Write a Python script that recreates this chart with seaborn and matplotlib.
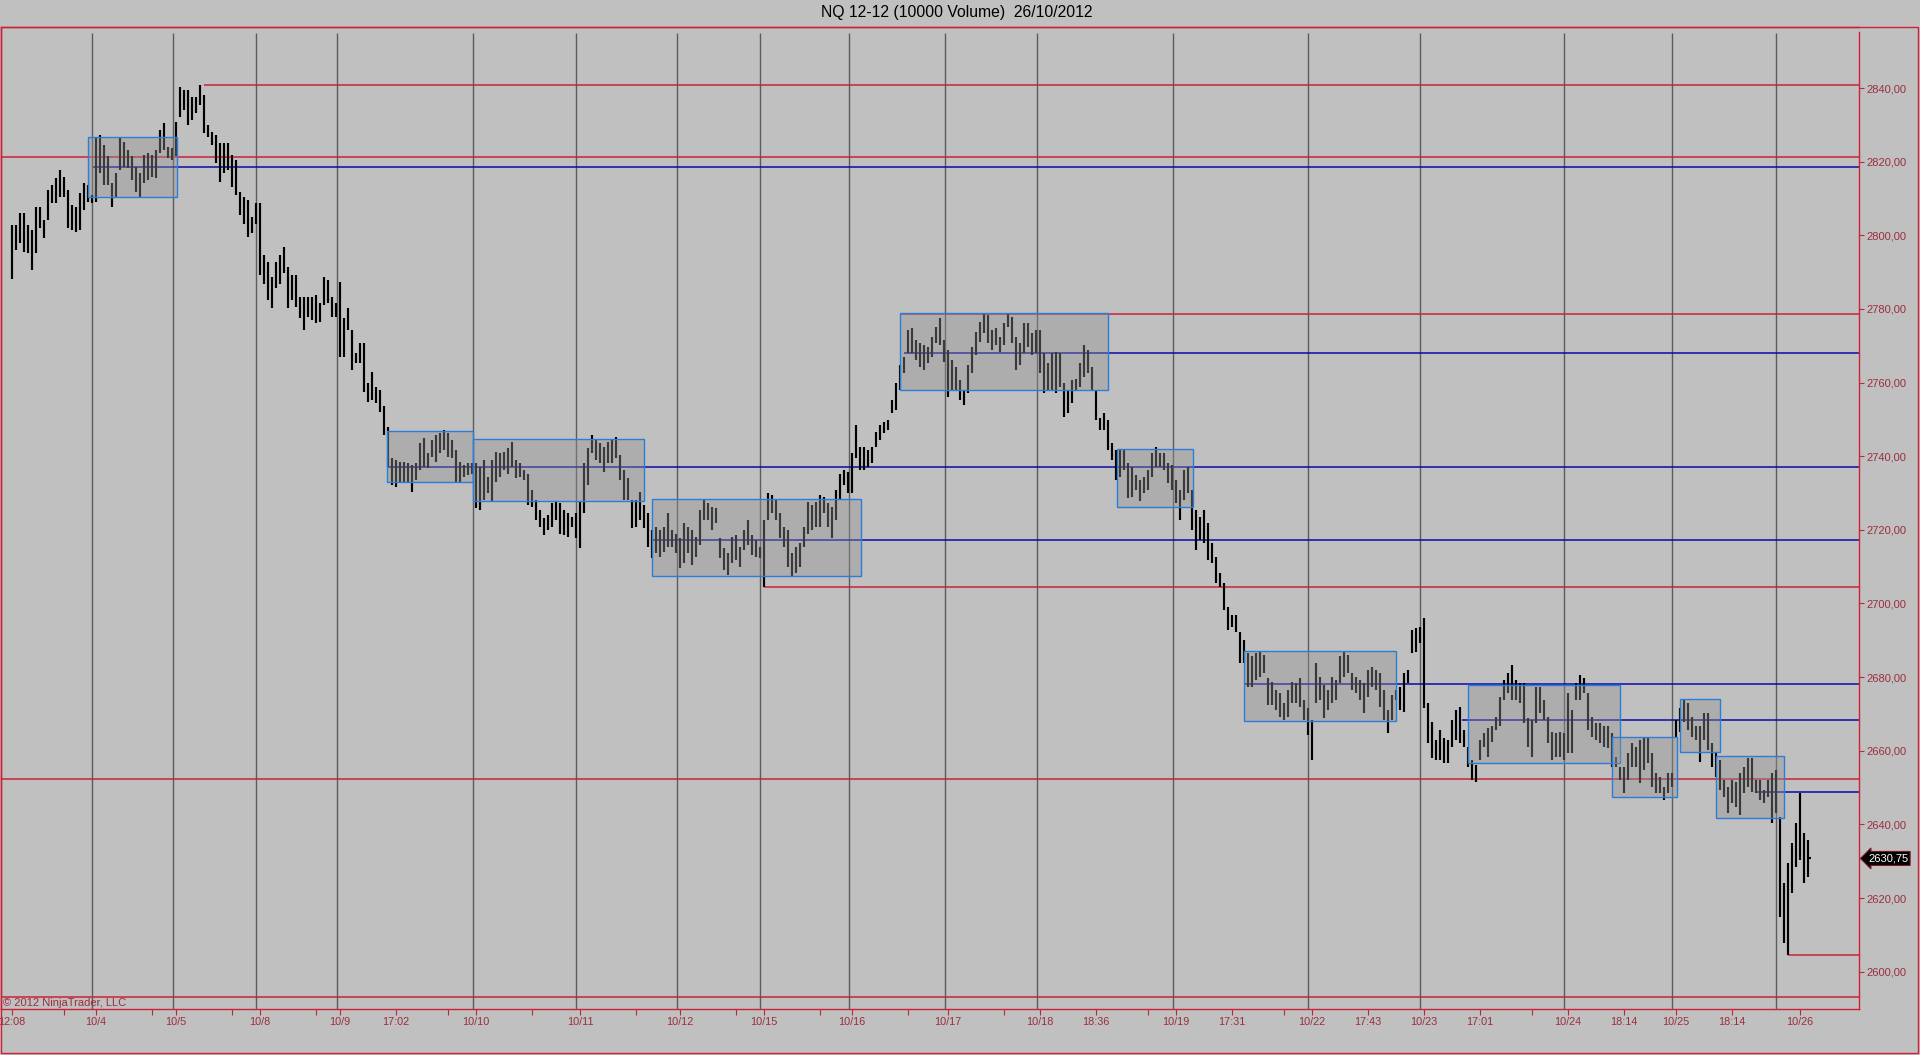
import numpy as np
import pandas as pd
import matplotlib
matplotlib.use("Agg")
import matplotlib.pyplot as plt
import seaborn as sns
from matplotlib.patches import Rectangle
import matplotlib.transforms as mtransforms

title = "NQ 12-12 (10000 Volume)  26/10/2012"
copyright_text = "\u00a9 2012 NinjaTrader, LLC"

highs = [
2802.8, 2802.8, 2806.0, 2806.0, 2802.8, 2801.4, 2807.8, 2807.8, 2804.1, 2812.3,
2813.7, 2815.5, 2817.7, 2815.9, 2812.3, 2808.2, 2807.8, 2811.4, 2814.1, 2813.7,
2810.9, 2826.8, 2827.2, 2824.5, 2821.4, 2814.1, 2816.8, 2826.8, 2825.4, 2823.2,
2821.4, 2818.6, 2816.8, 2821.8, 2822.3, 2821.8, 2823.2, 2828.6, 2830.4, 2824.1,
2823.6, 2830.9, 2840.4, 2839.5, 2839.5, 2837.6, 2837.6, 2840.75, 2838.1, 2830.0,
2828.1, 2827.2, 2825.0, 2825.0, 2825.0, 2821.8, 2820.4, 2811.8, 2810.5, 2809.6,
2805.1, 2808.7, 2808.7, 2794.6, 2792.8, 2788.8, 2792.8, 2794.6, 2796.9, 2791.5,
2789.2, 2789.2, 2783.3, 2783.3, 2783.3, 2783.3, 2783.8, 2781.5, 2788.8, 2787.9,
2783.3, 2781.5, 2787.4, 2777.4, 2780.2, 2774.3, 2767.9, 2770.7, 2770.7, 2759.8,
2763.0, 2758.9, 2758.0, 2753.5, 2748.0, 2739.4, 2739.0, 2738.5, 2738.5, 2738.1,
2737.6, 2738.1, 2743.5, 2744.9, 2740.8, 2744.4, 2745.8, 2746.2, 2747.1, 2746.2,
2744.4, 2741.7, 2738.5, 2737.6, 2738.1, 2738.1, 2738.1, 2737.2, 2738.9, 2734.4,
2738.9, 2741.2, 2740.8, 2741.2, 2742.1, 2743.9, 2738.9, 2738.1, 2736.3, 2735.3,
2730.8, 2728.1, 2725.4, 2723.1, 2724.0, 2727.2, 2727.6, 2727.2, 2725.4, 2724.5,
2723.6, 2724.5, 2727.6, 2738.1, 2742.1, 2745.8, 2744.8, 2743.5, 2742.6, 2743.9,
2744.4, 2745.3, 2740.3, 2736.3, 2734.0, 2728.1, 2728.1, 2730.4, 2726.7, 2724.5,
2719.9, 2720.9, 2719.9, 2720.9, 2724.5, 2719.9, 2719.0, 2717.7, 2721.8, 2720.9,
2719.9, 2718.1, 2725.4, 2728.5, 2727.2, 2726.3, 2725.8, 2717.7, 2715.0, 2713.6,
2718.1, 2718.6, 2715.4, 2719.9, 2722.7, 2718.6, 2717.2, 2715.4, 2722.7, 2729.9,
2729.5, 2728.1, 2724.5, 2720.9, 2719.9, 2713.6, 2715.4, 2716.3, 2720.9, 2727.6,
2726.7, 2727.6, 2729.5, 2729.0, 2727.2, 2726.3, 2730.8, 2735.3, 2736.3, 2735.8,
2740.8, 2748.5, 2742.6, 2742.6, 2741.7, 2742.6, 2746.7, 2748.5, 2749.4, 2749.8,
2755.3, 2759.8, 2764.8, 2767.0, 2774.3, 2774.7, 2771.6, 2770.7, 2770.2, 2769.7,
2772.5, 2775.2, 2777.4, 2771.6, 2768.8, 2766.1, 2764.3, 2760.7, 2758.0, 2764.8,
2769.7, 2773.8, 2776.5, 2778.8, 2778.3, 2774.3, 2774.7, 2772.5, 2776.1, 2778.8,
2777.9, 2772.5, 2770.7, 2776.1, 2776.1, 2773.4, 2774.3, 2774.3, 2767.9, 2765.2,
2767.9, 2768.4, 2767.9, 2759.8, 2758.0, 2760.7, 2761.1, 2765.2, 2770.2, 2768.8,
2764.3, 2758.0, 2750.3, 2751.6, 2749.8, 2743.5, 2741.7, 2741.7, 2741.7, 2738.1,
2737.2, 2734.9, 2733.5, 2734.4, 2736.3, 2740.8, 2742.6, 2740.8, 2740.8, 2738.1,
2737.6, 2733.5, 2730.8, 2736.3, 2737.2, 2730.8, 2725.4, 2723.6, 2725.4, 2721.8,
2716.3, 2712.7, 2708.2, 2705.5, 2699.1, 2696.9, 2696.9, 2692.3, 2690.1, 2686.5,
2685.6, 2686.5, 2686.9, 2686.0, 2679.7, 2678.8, 2676.5, 2675.6, 2672.9, 2676.5,
2678.8, 2678.3, 2679.7, 2673.8, 2671.5, 2668.4, 2683.8, 2680.1, 2677.9, 2676.5,
2680.1, 2679.2, 2685.6, 2686.9, 2686.0, 2681.0, 2680.1, 2679.2, 2678.3, 2681.9,
2682.8, 2681.9, 2681.0, 2676.5, 2671.1, 2675.1, 2676.5, 2677.4, 2681.0, 2681.9,
2692.8, 2693.3, 2693.7, 2696.0, 2672.9, 2667.9, 2662.9, 2665.6, 2663.4, 2662.9,
2668.4, 2671.1, 2672.0, 2665.6, 2661.1, 2657.5, 2656.1, 2662.9, 2664.7, 2666.1,
2666.6, 2669.3, 2674.7, 2679.2, 2681.0, 2683.3, 2679.2, 2678.3, 2678.3, 2668.8,
2668.4, 2677.4, 2677.4, 2673.8, 2669.3, 2665.2, 2664.7, 2665.2, 2664.7, 2675.6,
2671.1, 2678.3, 2680.6, 2679.7, 2675.6, 2669.3, 2667.5, 2667.5, 2666.6, 2666.6,
2664.7, 2658.4, 2655.7, 2655.7, 2659.3, 2662.0, 2661.1, 2662.9, 2663.4, 2663.4,
2659.3, 2653.9, 2653.0, 2650.2, 2653.9, 2653.9, 2668.4, 2671.5, 2673.8, 2672.9,
2669.3, 2666.6, 2666.6, 2670.2, 2670.2, 2662.0, 2659.3, 2657.5, 2652.1, 2650.2,
2652.1, 2651.6, 2653.9, 2655.7, 2657.9, 2657.9, 2652.1, 2652.1, 2649.3, 2652.1,
2653.9, 2654.8, 2642.1, 2624.0, 2629.4, 2634.9, 2640.3, 2648.4, 2637.6, 2635.8,
]

lows = [
2788.0, 2796.0, 2797.8, 2795.5, 2795.1, 2790.6, 2795.1, 2801.9, 2799.2, 2804.1,
2808.7, 2808.7, 2810.5, 2810.5, 2801.9, 2801.4, 2801.0, 2801.4, 2806.9, 2809.1,
2808.7, 2809.1, 2816.8, 2813.6, 2813.6, 2807.8, 2810.5, 2817.7, 2818.6, 2818.2,
2815.0, 2811.8, 2810.5, 2814.1, 2815.0, 2815.9, 2815.5, 2822.3, 2823.2, 2820.9,
2820.4, 2821.4, 2832.2, 2834.0, 2830.0, 2831.3, 2833.1, 2835.4, 2827.7, 2826.8,
2824.5, 2819.5, 2814.6, 2816.8, 2817.7, 2813.2, 2810.9, 2805.5, 2803.2, 2799.6,
2800.5, 2803.2, 2789.2, 2786.9, 2782.4, 2780.2, 2785.6, 2786.9, 2789.7, 2780.2,
2782.4, 2780.6, 2777.4, 2774.3, 2777.9, 2777.0, 2776.1, 2776.5, 2781.1, 2781.5,
2777.9, 2777.9, 2767.0, 2767.0, 2774.3, 2763.4, 2765.2, 2765.2, 2757.5, 2754.8,
2755.3, 2754.4, 2752.1, 2745.8, 2737.2, 2732.2, 2731.7, 2732.6, 2733.1, 2733.1,
2730.4, 2733.5, 2736.3, 2737.2, 2736.7, 2739.9, 2738.5, 2740.8, 2741.7, 2739.9,
2739.4, 2733.1, 2733.1, 2734.4, 2734.9, 2735.3, 2725.8, 2725.4, 2728.1, 2729.9,
2727.6, 2733.1, 2734.4, 2736.3, 2735.3, 2737.2, 2734.0, 2734.4, 2733.5, 2726.7,
2726.3, 2722.7, 2720.9, 2718.6, 2719.9, 2720.9, 2722.7, 2719.0, 2718.6, 2718.1,
2720.9, 2717.7, 2715.0, 2724.5, 2732.2, 2740.8, 2738.9, 2738.1, 2735.8, 2738.1,
2738.1, 2739.4, 2733.5, 2728.1, 2728.1, 2720.4, 2720.9, 2722.7, 2720.4, 2715.4,
2712.3, 2713.6, 2712.7, 2714.1, 2715.4, 2715.4, 2713.6, 2709.5, 2710.9, 2713.6,
2710.4, 2712.7, 2715.9, 2722.7, 2722.7, 2719.9, 2721.8, 2712.3, 2709.1, 2707.7,
2710.9, 2711.8, 2710.0, 2714.5, 2715.9, 2713.2, 2712.7, 2712.3, 2704.6, 2722.7,
2724.5, 2722.7, 2717.7, 2715.4, 2710.0, 2707.3, 2708.2, 2710.0, 2715.4, 2719.0,
2719.9, 2720.9, 2720.9, 2724.5, 2720.9, 2717.7, 2722.7, 2728.1, 2732.2, 2729.9,
2729.9, 2739.4, 2736.3, 2736.3, 2737.2, 2738.1, 2742.6, 2744.4, 2746.2, 2747.1,
2751.6, 2752.6, 2758.0, 2762.5, 2767.9, 2767.9, 2766.1, 2764.3, 2763.4, 2765.2,
2767.0, 2770.7, 2770.2, 2765.7, 2756.2, 2758.0, 2758.0, 2755.3, 2753.9, 2757.1,
2762.5, 2767.5, 2771.1, 2773.4, 2770.7, 2768.8, 2770.2, 2768.4, 2770.2, 2775.2,
2770.7, 2763.4, 2764.8, 2767.9, 2769.7, 2767.5, 2767.9, 2762.5, 2757.1, 2758.0,
2758.0, 2757.1, 2758.9, 2750.7, 2751.6, 2754.4, 2758.0, 2758.9, 2761.6, 2762.5,
2758.0, 2749.8, 2747.1, 2747.1, 2741.7, 2739.0, 2733.5, 2734.4, 2736.3, 2728.6,
2729.0, 2730.8, 2727.7, 2729.9, 2730.8, 2734.4, 2737.2, 2737.2, 2736.3, 2732.6,
2730.8, 2727.2, 2722.7, 2728.1, 2729.9, 2720.0, 2714.5, 2717.2, 2716.3, 2711.8,
2710.9, 2705.5, 2704.6, 2698.2, 2692.8, 2693.7, 2692.3, 2683.8, 2683.8, 2677.4,
2677.4, 2679.2, 2680.1, 2681.0, 2672.4, 2672.4, 2671.1, 2669.3, 2668.4, 2669.3,
2672.9, 2672.9, 2671.9, 2668.4, 2664.3, 2657.5, 2672.9, 2673.8, 2668.8, 2671.1,
2672.9, 2673.8, 2678.3, 2680.1, 2681.0, 2676.5, 2675.6, 2673.8, 2670.2, 2674.7,
2677.4, 2676.5, 2672.0, 2668.4, 2664.7, 2668.4, 2673.8, 2671.1, 2670.6, 2678.3,
2686.5, 2686.9, 2689.2, 2671.5, 2662.0, 2657.9, 2657.5, 2657.5, 2656.6, 2656.6,
2661.1, 2662.9, 2662.0, 2661.1, 2655.7, 2652.1, 2651.6, 2657.5, 2661.1, 2658.4,
2662.5, 2665.6, 2666.6, 2673.8, 2675.6, 2673.8, 2673.8, 2672.9, 2667.5, 2661.1,
2658.4, 2667.5, 2670.2, 2668.4, 2662.0, 2657.5, 2658.4, 2658.4, 2657.5, 2659.3,
2659.3, 2673.8, 2673.8, 2675.6, 2665.6, 2663.8, 2662.9, 2662.0, 2661.1, 2660.7,
2655.7, 2655.7, 2652.1, 2648.4, 2652.1, 2655.7, 2655.7, 2651.2, 2654.8, 2656.6,
2650.2, 2648.4, 2648.4, 2646.6, 2648.4, 2650.2, 2663.8, 2665.2, 2667.9, 2665.6,
2663.8, 2662.9, 2657.0, 2662.9, 2660.2, 2655.7, 2653.0, 2649.4, 2647.5, 2643.0,
2645.7, 2644.8, 2642.6, 2648.4, 2650.2, 2648.9, 2648.4, 2646.6, 2645.7, 2647.5,
2640.3, 2643.0, 2614.9, 2607.7, 2604.6, 2621.3, 2628.5, 2630.3, 2624.0, 2625.8,
]
last_close = 2630.75

# session separators (bar units)
session_breaks = [20.1, 40.2, 61.1, 81.15, 115.2, 141.1, 166.2, 187.1, 209.2,
                  233.15, 256.15, 290.2, 324.1, 352.05, 388.1, 415.1, 441.1]

major_tick_bars = [0, 21, 41, 62, 82, 96, 116, 142, 167, 188, 210, 234, 257, 271,
                   291, 305, 325, 339, 353, 367, 389, 403, 416, 430, 447]
major_tick_labels = ["12:08", "10/4", "10/5", "10/8", "10/9", "17:02", "10/10",
                     "10/11", "10/12", "10/15", "10/16", "10/17", "10/18", "18:36",
                     "10/19", "17:31", "10/22", "17:43", "10/23", "17:01", "10/24",
                     "18:14", "10/25", "18:14", "10/26"]
minor_tick_bars = [13, 35, 55, 76, 109, 130, 156, 181, 202, 224, 248, 284, 318, 380]

price_ticks = [2600, 2620, 2640, 2660, 2680, 2700, 2720, 2740, 2760, 2780, 2800, 2820, 2840]

# consolidation boxes
box_start = [19.0, 93.75, 115.2, 160.0, 222.0, 276.2, 308.0, 364.0, 400.1, 417.1, 426.1]
box_end = [41.2, 115.2, 158.1, 212.2, 274.1, 295.2, 346.0, 402.1, 416.2, 427.1, 443.1]
box_low = [2810.3, 2733.1, 2727.9, 2707.4, 2758.0, 2726.3, 2668.0, 2656.6, 2647.5, 2659.6, 2641.6]
box_high = [2826.6, 2746.9, 2744.6, 2728.5, 2779.0, 2741.9, 2687.1, 2677.9, 2663.6, 2674.1, 2658.6]

# horizontal levels
level_price = [2840.75, 2821.3, 2818.6, 2778.6, 2768.0, 2737.1, 2717.2, 2704.5,
               2678.0, 2668.3, 2652.3, 2648.7, 2604.6, 2593.1]
level_start = [48.0, -3.0, 20.2, 222.0, 223.0, 94.0, 160.0, 188.0,
               308.0, 362.5, -3.0, 436.0, 444.0, -3.0]
level_kind = ["red", "red", "blue", "red", "blue", "blue", "blue", "red",
              "blue", "blue", "red", "blue", "red", "red"]

# ---------------------------------------------------------------
BG = "#C0C0C0"
RED = "#CC2238"
BLUE = "#0A0AA8"
LABEL = "#9A2E3E"
BOXEDGE = "#2C7DD6"

sns.set_theme(style="white")
plt.rcParams["font.family"] = ["Liberation Sans", "DejaVu Sans"]

W, H = 1920, 1055
fig = plt.figure(figsize=(W / 100, H / 100), dpi=100)
fig.patch.set_facecolor(BG)

ax_left, ax_right, ax_top, ax_bottom = 1, 1859, 27, 1009
ax = fig.add_axes([ax_left / W, (H - ax_bottom) / H,
                   (ax_right - ax_left) / W, (ax_bottom - ax_top) / H])
ax.set_facecolor(BG)

df = pd.DataFrame({"bar": np.arange(len(highs)), "high": highs, "low": lows})

ymin, ymax = 2589.86, 2856.57
ax.set_xlim(-2.75, 461.75)
ax.set_ylim(ymin, ymax)

# session separators
ax.vlines(session_breaks, ymin, 2855.0, color="#5C5C5C", lw=1.0, zorder=1)

# horizontal levels
for p, s, k in zip(level_price, level_start, level_kind):
    ax.hlines(p, s, 461.75, color=RED if k == "red" else BLUE, lw=1.1, zorder=2)

# OHLC bars (high-low)
ax.vlines(df["bar"], df["low"], df["high"], color="black", lw=1.55, zorder=3)
ax.hlines(last_close, len(highs) - 1, len(highs) - 1 + 0.8, color="black", lw=1.5, zorder=3)

# boxes
for x0, x1, lo, hi in zip(box_start, box_end, box_low, box_high):
    ax.add_patch(Rectangle((x0, lo), x1 - x0, hi - lo,
                           facecolor=(146 / 255, 146 / 255, 146 / 255, 0.40),
                           edgecolor=BOXEDGE, lw=1.0, zorder=4))

# axes styling
for side in ["left", "right", "top", "bottom"]:
    ax.spines[side].set_color(RED)
    ax.spines[side].set_linewidth(1.0)
ax.spines["right"].set_bounds(ymin, 2855.2)

ax.yaxis.tick_right()
ax.set_yticks(price_ticks)
ax.set_yticklabels([f"{v:.2f}".replace(".", ",") for v in price_ticks])
ax.tick_params(axis="y", which="major", direction="out", length=3.6, width=0.8,
               color=RED, labelcolor=LABEL, labelsize=8, pad=1.5, right=True, left=False)

ax.set_xticks(major_tick_bars)
ax.set_xticklabels(major_tick_labels)
ax.set_xticks(minor_tick_bars, minor=True)
ax.tick_params(axis="x", which="both", direction="out", length=4.3, width=0.8,
               color=RED, labelcolor=LABEL, labelsize=7.8, pad=1.5, bottom=True)
ax.grid(False)

# last price marker
trans = mtransforms.blended_transform_factory(ax.transAxes, ax.transData)
ax.text(1.0 + 9 / 1858, last_close, "2630,75", transform=trans, ha="left", va="center",
        color="white", fontsize=8, zorder=6, clip_on=False,
        bbox=dict(boxstyle="larrow,pad=0.18", fc="black", ec="#7A1A28", lw=0.8))

# outer frame
fig.add_artist(Rectangle((1 / W, 2 / H), 1917 / W, 1026 / H, transform=fig.transFigure,
                         fill=False, edgecolor=RED, lw=1.0))

fig.text(957 / W, (H - 13) / H, title, ha="center", va="center", fontsize=11.3, color="black")
fig.text(3 / W, (H - 1003) / H, copyright_text, ha="left", va="center", fontsize=8, color=LABEL)

fig.savefig("out.png", dpi=100, facecolor=BG)
